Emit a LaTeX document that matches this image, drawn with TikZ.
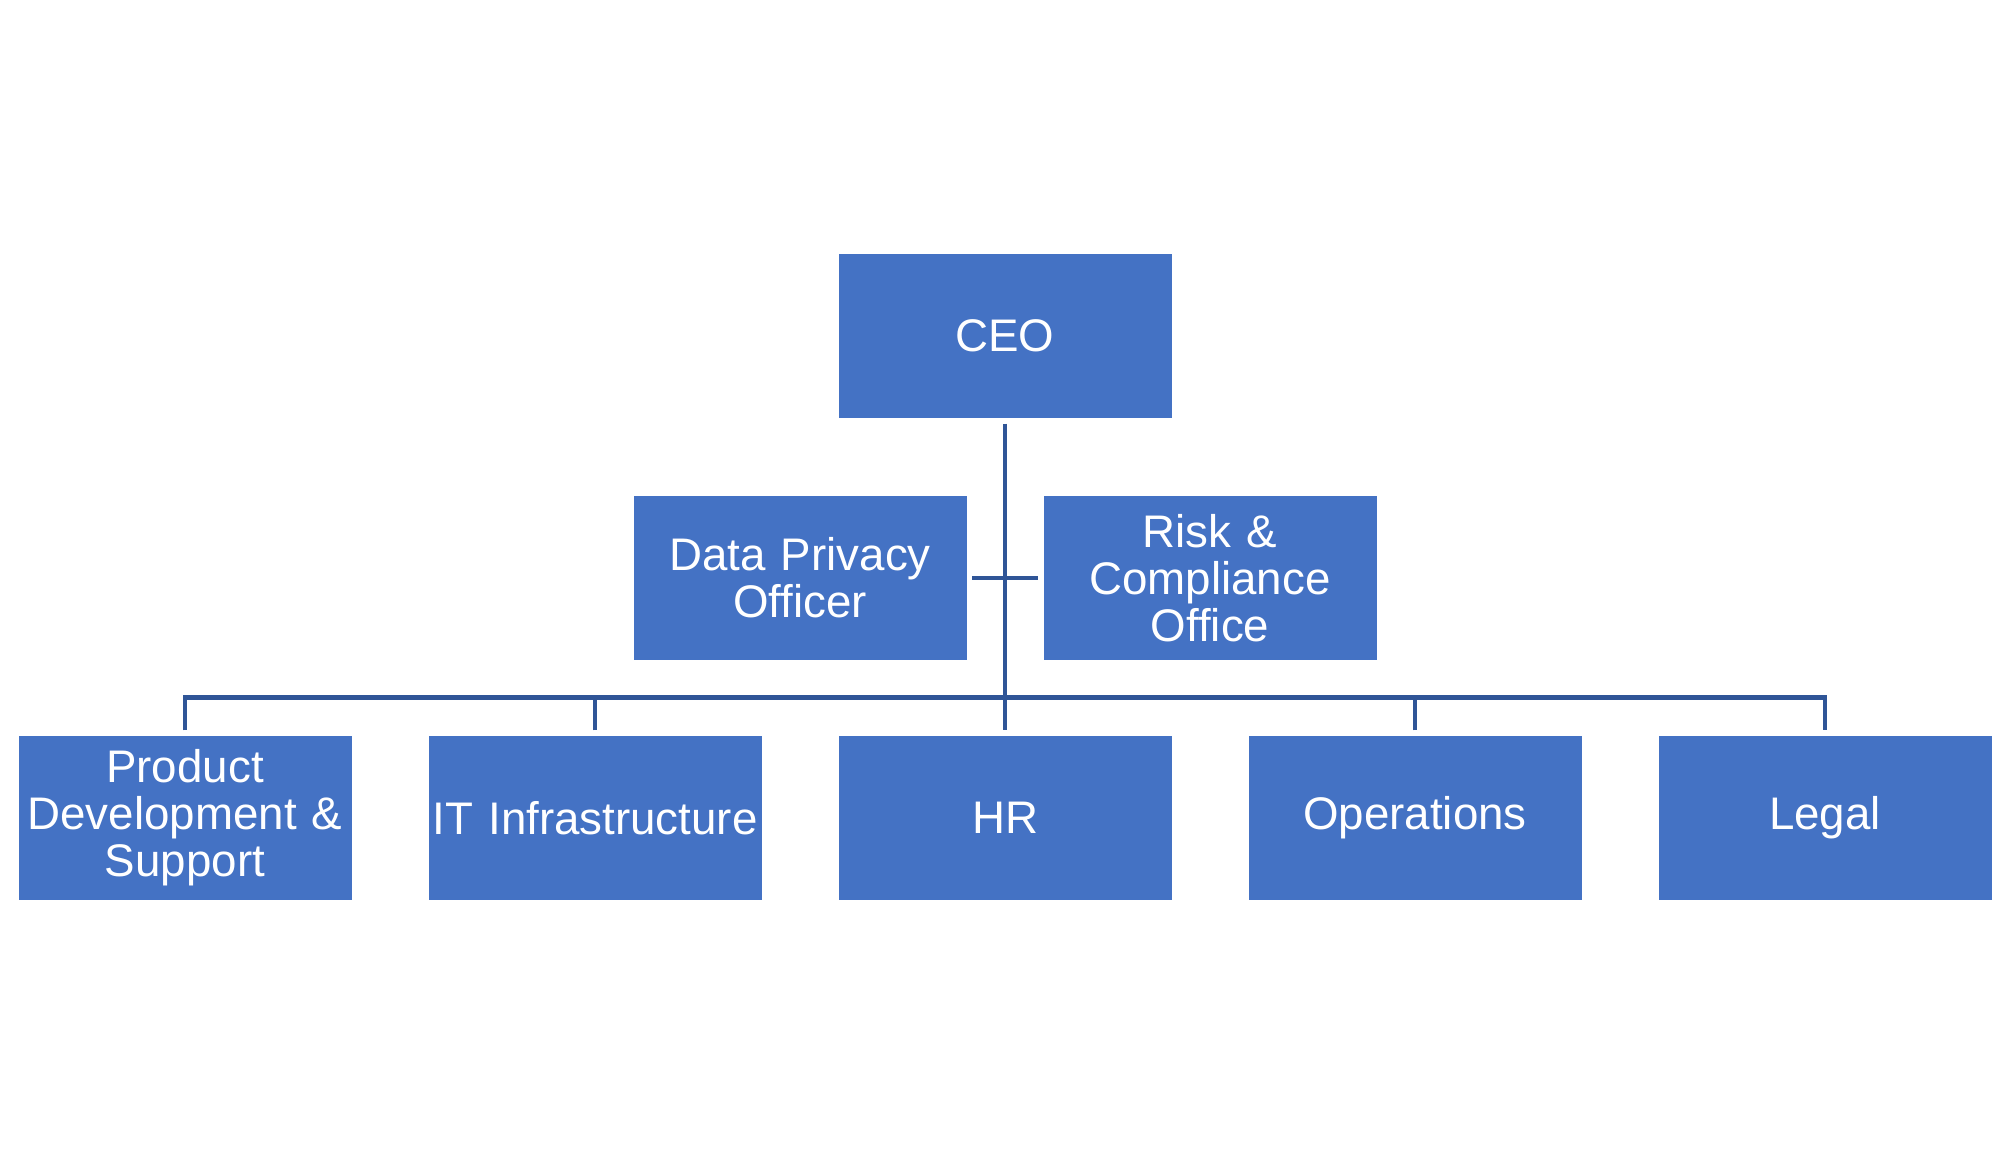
\documentclass[tikz,border=0pt]{standalone}
\usepackage{fontspec}
\setmainfont{Liberation Sans}
\usepackage{tikz}
\definecolor{boxblue}{RGB}{68,114,196}
\definecolor{lineblue}{RGB}{47,85,151}

\begin{document}
\begin{tikzpicture}[
    unit/.style={rectangle,fill=boxblue,text=white,minimum width=3.33cm,minimum height=1.64cm,
      inner sep=0pt,text width=3.33cm,align=center,font=\fontsize{13}{13.4}\selectfont},
    link/.style={lineblue,line width=1.4pt,shorten <=0.05cm,shorten >=0.05cm},
    drop/.style={lineblue,line width=1.4pt,shorten <=0.05cm}]
  \useasboundingbox (0,0) rectangle (19.98,-11.55);
  % top and staff units
  \node[unit] (ceo) at (10.05,-3.36) {CEO};
  \node[unit] (dpo) at (8.00,-5.78) {Data Privacy\\Officer};
  \node[unit] (risk) at (12.10,-5.78) {Risk \&\\Compliance\\Office};
  % departments
  \node[unit] (pds) at (1.85,-8.18) {Product\\Development \&\\Support};
  \node[unit] (it) at (5.95,-8.18) {IT Infrastructure};
  \node[unit] (hr) at (10.05,-8.18) {HR};
  \node[unit] (ops) at (14.15,-8.18) {Operations};
  \node[unit] (legal) at (18.25,-8.18) {Legal};
  % connectors
  \draw[link] (ceo.south) -- (hr.north);
  \draw[link] (dpo.east) -- (risk.west);
  \draw[link] (pds.north) -- ++(0,0.38) -| (legal.north);
  \draw[drop] (it.north) -- ++(0,0.38);
  \draw[drop] (ops.north) -- ++(0,0.38);
\end{tikzpicture}
\end{document}
